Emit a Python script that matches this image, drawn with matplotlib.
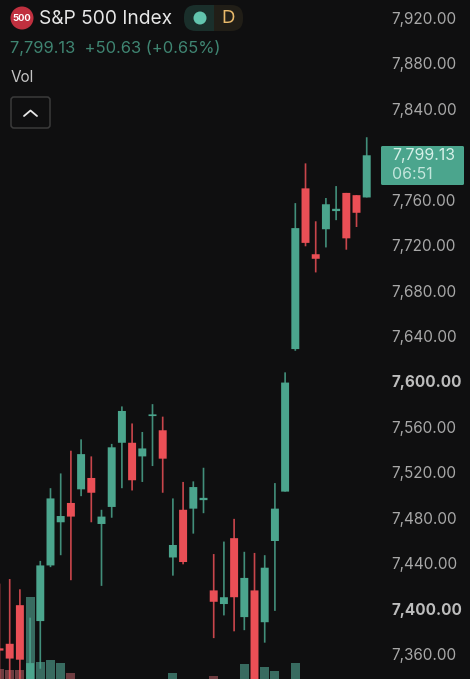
import matplotlib
matplotlib.use("Agg")
import matplotlib.pyplot as plt
from matplotlib.patches import Circle, FancyBboxPatch, Rectangle

plt.rcParams["font.family"] = ["Inter", "DejaVu Sans"]

# Daily candles
opens = [7365, 7369, 7403, 7320, 7389, 7438, 7476, 7493, 7505, 7515, 7474.5, 7489.5, 7546, 7546, 7534, 7569.5,
         7557, 7445, 7487, 7488, 7495.5, 7416, 7404, 7462, 7392.5, 7416, 7388, 7459.5, 7503, 7628.5, 7770, 7712,
         7734, 7750, 7766, 7764, 7762]
highs = [7422, 7426, 7417, 7392, 7442, 7506, 7519, 7539, 7549, 7534, 7487, 7545, 7578, 7563, 7555.5, 7580,
         7569, 7497, 7511.5, 7512, 7524, 7448, 7459, 7479, 7450, 7449, 7447, 7510.5, 7608, 7757, 7792, 7741,
         7761.5, 7772, 7766, 7764, 7815]
lows = [7330, 7335, 7330, 7310, 7347, 7436.5, 7447, 7425, 7499, 7476, 7420, 7480, 7506, 7504, 7511.5, 7525.5,
        7502, 7429, 7439, 7466, 7484, 7374, 7394, 7380, 7381, 7310, 7370, 7398, 7503, 7627, 7719, 7696,
        7718, 7742, 7716, 7736, 7762]
closes = [7363, 7356, 7355, 7352, 7438, 7497, 7481.5, 7481, 7536, 7502, 7481, 7542, 7574, 7513, 7541, 7571,
          7532, 7456, 7441, 7507, 7497.5, 7406, 7410, 7410, 7427, 7320, 7436, 7488, 7599, 7735, 7722, 7708,
          7756, 7752, 7726, 7748.5, 7799.13]
volumes = [0.5, 0.45, 0.45, 4.1, 0.85, 0.95, 0.8, 0.3, 0, 0, 0, 0, 0, 0, 0, 0,
           0, 0.3, 0, 0, 0, 0.15, 0, 0, 0.75, 0, 0.6, 0.4, 0, 0.8, 0, 0,
           0, 0, 0, 0, 0]

price_ticks = [7920, 7880, 7840, 7760, 7720, 7680, 7640, 7600, 7560, 7520, 7480, 7440, 7400, 7360]
bold_ticks = [7600, 7400]

BG = "#0f0f10"
UP = "#4ba58d"
DOWN = "#ea4f56"
UP_VOL = "#386b60"
DOWN_VOL = "#6e3c40"

fig = plt.figure(figsize=(4.7, 6.79), dpi=100, facecolor=BG)

# Volume sits behind the candles, at the bottom of the same area
ax_vol = fig.add_axes([0, 0, 381 / 470, 1])
ax_vol.set_xlim(0.05, 37.4)
ax_vol.set_ylim(0, 33.95)
ax_vol.axis("off")

ax = fig.add_axes([0, 0, 381 / 470, 1])
ax.patch.set_visible(False)
ax.set_xlim(0.05, 37.4)
ax.set_ylim(7338, 7935.85)

for i in range(len(opens)):
    up = closes[i] >= opens[i]
    color = UP if up else DOWN
    if volumes[i] > 0:
        ax_vol.bar(i, volumes[i], width=0.88, color=UP_VOL if up else DOWN_VOL, linewidth=0)
    wick = ax.vlines(i, lows[i], highs[i], color=color, linewidth=1.2, alpha=0.85, zorder=2)
    wick.set_snap(False)
    bottom = min(opens[i], closes[i])
    height = abs(closes[i] - opens[i])
    body = ax.bar(i, height, bottom=bottom, width=0.78, color=color, linewidth=0, zorder=3)
    body[0].set_snap(False)

# Price scale on the right
ax.yaxis.tick_right()
ax.set_xticks([])
ax.set_yticks(price_ticks)
ax.set_yticklabels([f"{p:,.2f}" for p in price_ticks])
ax.tick_params(axis="y", length=0, pad=7.5, labelsize=11, labelcolor="#a8a8a8")
for label, p in zip(ax.get_yticklabels(), price_ticks):
    if p in bold_ticks:
        label.set_fontweight("bold")
        label.set_color("#bdbdbd")
for side in ax.spines:
    ax.spines[side].set_visible(False)

# Overlay in pixel units for the header and the price tag
ui = fig.add_axes([0, 0, 1, 1], zorder=5)
ui.patch.set_visible(False)
ui.set_xlim(0, 470)
ui.set_ylim(679, 0)
ui.axis("off")

ui.add_patch(Circle((22, 18), 11.5, color="#c0303f", linewidth=0))
ui.text(22, 18.5, "500", color="white", fontsize=6.8, fontweight="bold", ha="center", va="center")
ui.text(39, 18.5, "S&P 500 Index", color="#e6e6e6", fontsize=13.8, ha="left", va="center")

ui.add_patch(FancyBboxPatch((197, 5), 46, 26, boxstyle="round,pad=0,rounding_size=12", color="#211e17", linewidth=0))
ui.add_patch(FancyBboxPatch((184, 5), 30, 26, boxstyle="round,pad=0,rounding_size=12", color="#1a2f2b", linewidth=0))
ui.add_patch(Rectangle((200, 5), 14, 26, color="#1a2f2b", linewidth=0))
ui.add_patch(Circle((200, 18), 6.5, color="#62c4ae", linewidth=0))
ui.text(228, 18.5, "D", color="#e9b96a", fontsize=13.5, ha="center", va="center")

ui.text(10, 47.5, "7,799.13  +50.63 (+0.65%)", color="#3f8572", fontsize=11.9, ha="left", va="center")
ui.text(11, 77, "Vol", color="#c4c4c4", fontsize=11, ha="left", va="center")

ui.add_patch(FancyBboxPatch((11, 97), 39, 31, boxstyle="round,pad=0,rounding_size=3",
                            facecolor=BG, edgecolor="#3b3b3b", linewidth=1.1))
ui.plot([24, 30.5, 37], [116, 110.5, 116], color="#e8e8e8", linewidth=1.3, solid_capstyle="round")

ui.add_patch(FancyBboxPatch((381, 146), 83, 39, boxstyle="round,pad=0,rounding_size=1.5", color=UP, linewidth=0))
ui.text(392, 155.5, "7,799.13", color="#d6f0e8", fontsize=11.4, ha="left", va="center")
ui.text(392, 174.5, "06:51", color="#c3e6dc", fontsize=11.4, ha="left", va="center")

fig.savefig("out.png", dpi=100, facecolor=BG)
